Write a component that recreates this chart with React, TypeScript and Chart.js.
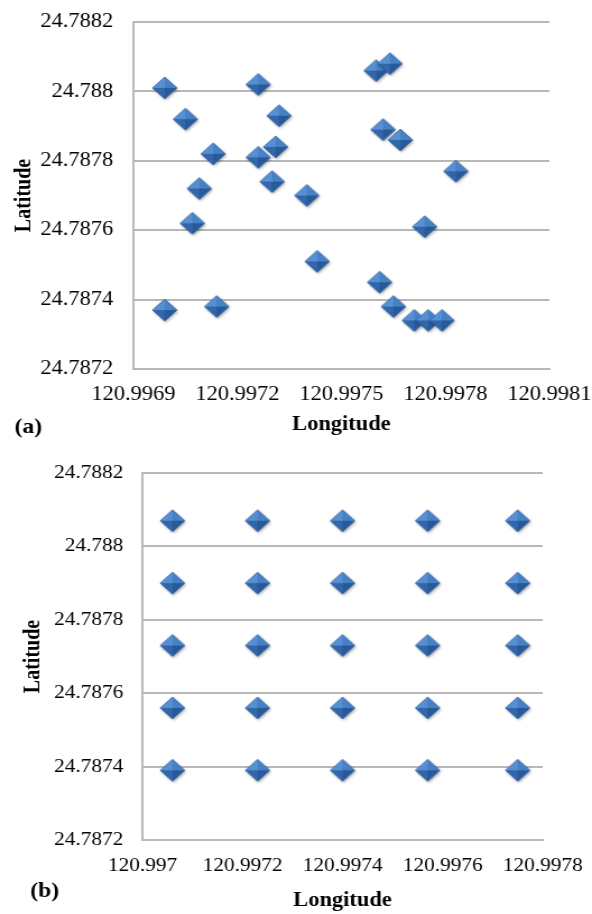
import React, { useEffect, useRef } from "react";
import { Chart, registerables } from "chart.js";

Chart.register(...registerables);

// ---------- Data: panel (a) ----------
const lonA = [
  120.99699, 120.99705, 120.99713, 120.99709, 120.99707, 120.99699, 120.99714,
  120.99726, 120.99732, 120.99731, 120.99726, 120.9973, 120.9974, 120.99743,
  120.9976, 120.99764, 120.99762, 120.99767, 120.99783, 120.99774, 120.99761,
  120.99765, 120.99771, 120.99775, 120.99779,
];
const latA = [
  24.78801, 24.78792, 24.78782, 24.78772, 24.78762, 24.78737, 24.78738,
  24.78802, 24.78793, 24.78784, 24.78781, 24.78774, 24.7877, 24.78751,
  24.78806, 24.78808, 24.78789, 24.78786, 24.78777, 24.78761, 24.78745,
  24.78738, 24.78734, 24.78734, 24.78734,
];
const xTicksA = [120.9969, 120.9972, 120.9975, 120.9978, 120.9981];
const xTickLabelsA = ["120.9969", "120.9972", "120.9975", "120.9978", "120.9981"];

// ---------- Data: panel (b) ----------
const lonB = [
  120.99706, 120.99723, 120.9974, 120.99757, 120.99775,
  120.99706, 120.99723, 120.9974, 120.99757, 120.99775,
  120.99706, 120.99723, 120.9974, 120.99757, 120.99775,
  120.99706, 120.99723, 120.9974, 120.99757, 120.99775,
  120.99706, 120.99723, 120.9974, 120.99757, 120.99775,
];
const latB = [
  24.78807, 24.78807, 24.78807, 24.78807, 24.78807,
  24.7879, 24.7879, 24.7879, 24.7879, 24.7879,
  24.78773, 24.78773, 24.78773, 24.78773, 24.78773,
  24.78756, 24.78756, 24.78756, 24.78756, 24.78756,
  24.78739, 24.78739, 24.78739, 24.78739, 24.78739,
];
const xTicksB = [120.997, 120.9972, 120.9974, 120.9976, 120.9978];
const xTickLabelsB = ["120.997", "120.9972", "120.9974", "120.9976", "120.9978"];

// ---------- Shared y axis ----------
const yTicks = [24.7872, 24.7874, 24.7876, 24.7878, 24.788, 24.7882];
const yTickLabels = ["24.7872", "24.7874", "24.7876", "24.7878", "24.788", "24.7882"];

const FONT = '"Liberation Serif", "Times New Roman", serif';
const GRID = "#b8b8b8";
const INNER_W = 528;
const CSS_W = 592;

function makeDiamond(r: number): HTMLCanvasElement {
  const pad = 5;
  const size = Math.ceil(2 * r + 2 * pad);
  const c = document.createElement("canvas");
  c.width = size;
  c.height = size;
  const g = c.getContext("2d")!;
  const cx = size / 2;
  const cy = size / 2;
  g.save();
  g.shadowColor = "rgba(0,0,0,0.35)";
  g.shadowBlur = 3;
  g.shadowOffsetX = 1;
  g.shadowOffsetY = 1.5;
  g.beginPath();
  g.moveTo(cx - r, cy);
  g.lineTo(cx, cy - r);
  g.lineTo(cx + r, cy);
  g.lineTo(cx, cy + r);
  g.closePath();
  g.fillStyle = "#3a72b8";
  g.fill();
  g.restore();
  const facet = (pts: number[][], col: string) => {
    g.beginPath();
    g.moveTo(pts[0][0], pts[0][1]);
    for (let i = 1; i < pts.length; i++) g.lineTo(pts[i][0], pts[i][1]);
    g.closePath();
    g.fillStyle = col;
    g.fill();
  };
  const L = [cx - r, cy], T = [cx, cy - r], R = [cx + r, cy], B = [cx, cy + r], C = [cx, cy];
  facet([L, T, C], "#5690d3");
  facet([T, R, C], "#4680c5");
  facet([R, B, C], "#285a9a");
  facet([B, L, C], "#3167aa");
  g.beginPath();
  g.moveTo(cx - r, cy);
  g.lineTo(cx, cy - r);
  g.lineTo(cx + r, cy);
  g.lineTo(cx, cy + r);
  g.closePath();
  g.strokeStyle = "rgba(40,80,140,0.45)";
  g.lineWidth = 1;
  g.stroke();
  return c;
}

type PanelCfg = {
  lon: number[];
  lat: number[];
  xTicks: number[];
  xLabels: string[];
  height: number;
  yWidth: number;
  padTop: number;
  padRight: number;
  xHeight: number;
  tickFont: number;
  yTickPad: number;
  xTickPad: number;
  yTitlePad: number;
  xTitlePad: number;
  label: string;
  labelX: number;
  labelY: number;
};

function clearPad(s: any) {
  s.paddingTop = 0;
  s.paddingBottom = 0;
  s.paddingLeft = 0;
  s.paddingRight = 0;
}

function Panel({ cfg }: { cfg: PanelCfg }) {
  const ref = useRef<HTMLCanvasElement>(null);
  useEffect(() => {
    if (!ref.current) return;
    const marker = makeDiamond(11);
    const labelPlugin = {
      id: "panelLabel",
      afterDraw(chart: any) {
        const ctx = chart.ctx;
        ctx.save();
        ctx.font = `bold 21px ${FONT}`;
        ctx.fillStyle = "#000";
        ctx.textAlign = "left";
        ctx.textBaseline = "middle";
        ctx.fillText(cfg.label, cfg.labelX, cfg.labelY);
        ctx.restore();
      },
    };
    const chart = new Chart(ref.current, {
      type: "scatter",
      data: {
        datasets: [
          {
            data: cfg.lon.map((x, i) => ({ x, y: cfg.lat[i] })),
            pointStyle: marker as any,
            pointRadius: 11,
            pointHoverRadius: 11,
          },
        ],
      },
      options: {
        animation: false,
        responsive: false,
        devicePixelRatio: 1,
        layout: { autoPadding: false, padding: { left: 0, top: cfg.padTop, right: cfg.padRight, bottom: 0 } },
        plugins: { legend: { display: false }, tooltip: { enabled: false } },
        scales: {
          x: {
            type: "linear",
            min: cfg.xTicks[0],
            max: cfg.xTicks[cfg.xTicks.length - 1],
            afterBuildTicks: (s: any) => {
              s.ticks = cfg.xTicks.map((v) => ({ value: v }));
            },
            afterFit: (s: any) => {
              s.height = cfg.xHeight;
              clearPad(s);
            },
            ticks: {
              autoSkip: false,
              maxRotation: 0,
              padding: cfg.xTickPad,
              color: "#000",
              font: { family: FONT, size: cfg.tickFont },
              callback: (_v: any, i: number) => cfg.xLabels[i],
            },
            grid: { display: false, drawTicks: false },
            border: { display: true, color: GRID, width: 2 },
            title: {
              display: true,
              text: "Longitude",
              color: "#000",
              font: { family: FONT, size: 20, weight: "bold", lineHeight: 1 },
              padding: { top: 0, bottom: cfg.xTitlePad },
            },
          },
          y: {
            type: "linear",
            min: yTicks[0],
            max: yTicks[yTicks.length - 1],
            afterBuildTicks: (s: any) => {
              s.ticks = yTicks.map((v) => ({ value: v }));
            },
            afterFit: (s: any) => {
              s.width = cfg.yWidth;
              clearPad(s);
            },
            ticks: {
              autoSkip: false,
              padding: cfg.yTickPad,
              color: "#000",
              font: { family: FONT, size: cfg.tickFont },
              callback: (_v: any, i: number) => yTickLabels[i],
            },
            grid: { display: true, drawTicks: false, color: GRID, lineWidth: 2 },
            border: { display: true, color: GRID, width: 2 },
            title: {
              display: true,
              text: "Latitude",
              color: "#000",
              font: { family: FONT, size: 20, weight: "bold", lineHeight: 1 },
              padding: { top: cfg.yTitlePad, bottom: 0 },
            },
          },
        },
      },
      plugins: [labelPlugin],
    });
    return () => chart.destroy();
  }, [cfg]);
  return (
    <canvas
      ref={ref}
      width={INNER_W}
      height={cfg.height}
      style={{ display: "block", width: CSS_W + "px", height: cfg.height + "px" }}
    />
  );
}

const cfgA: PanelCfg = {
  lon: lonA,
  lat: latA,
  xTicks: xTicksA,
  xLabels: xTickLabelsA,
  height: 440,
  yWidth: 119,
  padTop: 22,
  padRight: 38,
  xHeight: 71,
  tickFont: 20,
  yTickPad: 18,
  xTickPad: 14,
  yTitlePad: 12,
  xTitlePad: 5,
  label: "(a)",
  labelX: 13,
  labelY: 428,
};

const cfgB: PanelCfg = {
  lon: lonB,
  lat: latB,
  xTicks: xTicksB,
  xLabels: xTickLabelsB,
  height: 474,
  yWidth: 127,
  padTop: 33,
  padRight: 44,
  xHeight: 74,
  tickFont: 19,
  yTickPad: 17,
  xTickPad: 15,
  yTitlePad: 20,
  xTitlePad: 3,
  label: "(b)",
  labelX: 27,
  labelY: 452,
};

export default function App() {
  return (
    <div style={{ position: "absolute", left: 0, top: 0, width: CSS_W, height: 914, background: "#fff" }}>
      <Panel cfg={cfgA} />
      <Panel cfg={cfgB} />
    </div>
  );
}
